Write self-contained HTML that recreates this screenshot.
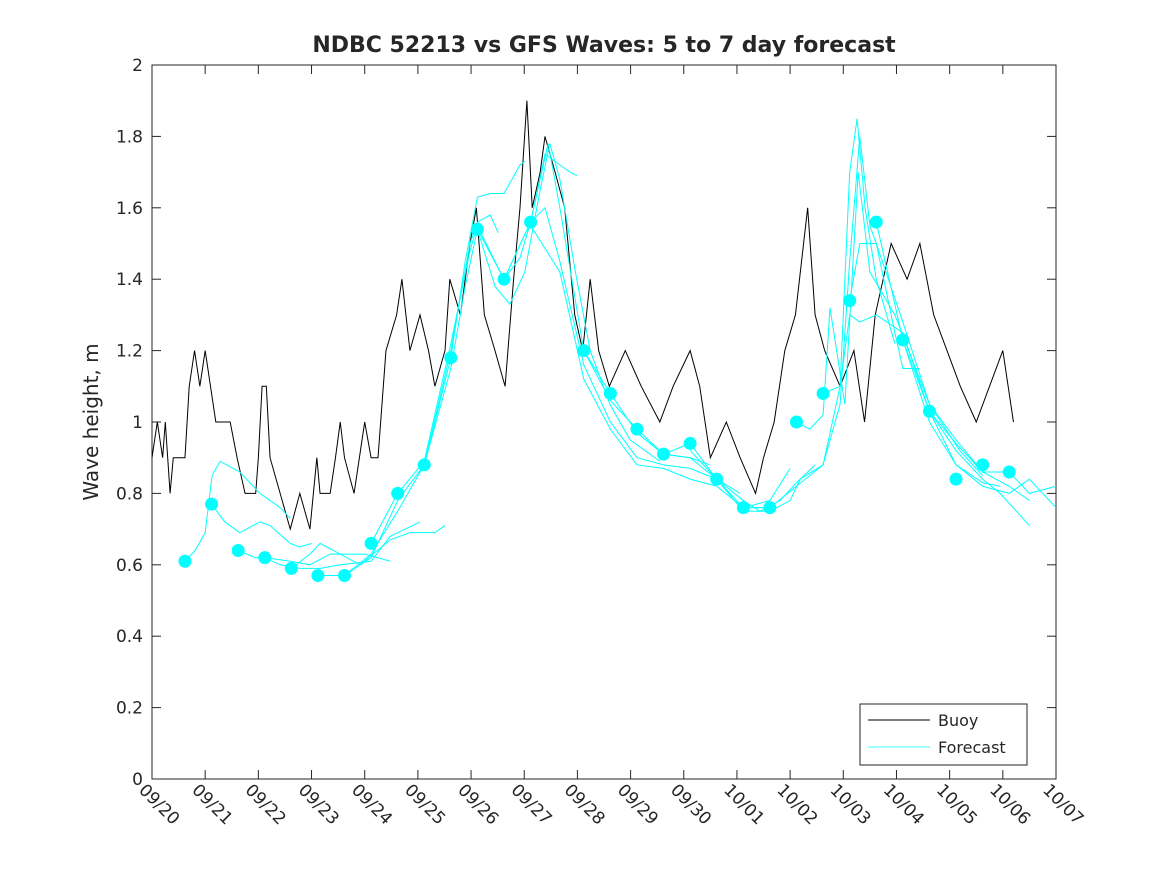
<!DOCTYPE html>
<html><head><meta charset="utf-8"><style>
body{margin:0;background:#fff;}
svg text{font-family:"DejaVu Sans","Liberation Sans",sans-serif;fill:#262626;}
</style></head><body>
<svg id="chart" width="1167" height="875" xmlns="http://www.w3.org/2000/svg">
<rect x="0" y="0" width="1167" height="875" fill="#fff"/>
<text x="604" y="52" text-anchor="middle" font-size="22" font-weight="bold" fill="#000">NDBC 52213 vs GFS Waves: 5 to 7 day forecast</text>
<rect x="152" y="65" width="904" height="714" fill="#fff" stroke="#262626" stroke-width="1"/>
<g id="grid"></g>
<g id="buoyG"></g>
<g id="fcG"></g>
<g id="dotG"></g>
<text transform="translate(98,422) rotate(-90)" text-anchor="middle" font-size="20">Wave height, m</text>
<g>
<rect x="860" y="704" width="167" height="61" fill="#fff" stroke="#262626" stroke-width="1"/>
<line x1="868" y1="720" x2="930" y2="720" stroke="#000" stroke-width="1"/>
<text x="938" y="726" font-size="16">Buoy</text>
<line x1="868" y1="747" x2="930" y2="747" stroke="#00ffff" stroke-width="0.8"/>
<text x="938" y="753" font-size="16">Forecast</text>
</g>
</svg>
<script>
const xTickLabels=["09/20","09/21","09/22","09/23","09/24","09/25","09/26","09/27","09/28","09/29","09/30","10/01","10/02","10/03","10/04","10/05","10/06","10/07"];
const yTicks=[0,0.2,0.4,0.6,0.8,1,1.2,1.4,1.6,1.8,2];
const buoyDays=[0,0.1,0.2,0.25,0.34,0.4,0.62,0.7,0.8,0.9,1.0,1.1,1.2,1.47,1.6,1.75,1.95,2.0,2.07,2.15,2.22,2.41,2.6,2.78,2.97,3.1,3.16,3.35,3.45,3.54,3.62,3.8,4.0,4.12,4.25,4.4,4.6,4.7,4.85,5.04,5.2,5.32,5.51,5.6,5.8,5.98,6.1,6.25,6.45,6.64,6.8,6.92,7.05,7.15,7.3,7.39,7.58,7.76,7.95,8.1,8.24,8.4,8.6,8.9,9.2,9.55,9.8,10.12,10.3,10.5,10.8,11.06,11.35,11.5,11.7,11.9,12.1,12.33,12.47,12.65,12.94,13.2,13.4,13.6,13.9,14.2,14.44,14.7,14.95,15.2,15.5,15.75,16.0,16.1,16.2];
const buoyVals=[0.9,1.0,0.9,1.0,0.8,0.9,0.9,1.1,1.2,1.1,1.2,1.1,1.0,1.0,0.9,0.8,0.8,0.9,1.1,1.1,0.9,0.8,0.7,0.8,0.7,0.9,0.8,0.8,0.9,1.0,0.9,0.8,1.0,0.9,0.9,1.2,1.3,1.4,1.2,1.3,1.2,1.1,1.2,1.4,1.3,1.5,1.6,1.3,1.2,1.1,1.4,1.6,1.9,1.6,1.7,1.8,1.7,1.6,1.3,1.2,1.4,1.2,1.1,1.2,1.1,1.0,1.1,1.2,1.1,0.9,1.0,0.9,0.8,0.9,1.0,1.2,1.3,1.6,1.3,1.2,1.1,1.2,1.0,1.3,1.5,1.4,1.5,1.3,1.2,1.1,1.0,1.1,1.2,1.1,1.0];
const dotDays=[0.62,1.12,1.62,2.12,2.62,3.12,3.62,4.12,4.62,5.12,5.62,6.12,6.62,7.12,8.12,8.62,9.12,9.62,10.12,10.62,11.12,11.62,12.12,12.62,13.12,13.62,14.12,14.62,15.12,15.62,16.12];
const dotVals=[0.61,0.77,0.64,0.62,0.59,0.57,0.57,0.66,0.80,0.88,1.18,1.54,1.40,1.56,1.20,1.08,0.98,0.91,0.94,0.84,0.76,0.76,1.00,1.08,1.34,1.56,1.23,1.03,0.84,0.88,0.86];
const fcDays=[
[0.62,0.81,1.0,1.13,1.28,1.65,2.03,2.41,2.6],
[1.12,1.37,1.65,2.03,2.22,2.6,2.78,3.0],
[1.62,1.94,2.12,2.6,2.97,3.35,3.62,4.0,4.48],
[2.12,2.41,2.78,3.16,3.54,4.12,4.48,5.04],
[2.62,2.97,3.16,3.54,3.91,4.48,4.85,5.32,5.51],
[3.12,3.62,4.12,4.62,5.12,5.62,5.89,6.12,6.36,6.62,6.92,7.01],
[3.62,4.12,4.62,5.12,5.62,5.98,6.12,6.36,6.51],
[4.12,4.62,5.12,5.62,5.98,6.12,6.45,6.62,6.92,7.12,7.39,7.58,7.86,7.99],
[5.12,5.62,5.89,6.12,6.45,6.73,7.01,7.3,7.48,7.67,7.95,8.24,8.61,8.99,9.55],
[6.12,6.62,7.12,7.45,7.67,8.12,8.62,9.12,9.62,10.12,10.49],
[6.62,7.12,7.39,7.67,8.12,8.62,9.12,9.62,10.12,10.62,11.06],
[7.12,7.67,8.12,8.62,9.12,9.62,10.12,10.62,11.12,11.62],
[8.12,8.62,9.12,9.62,10.12,10.62,11.12,11.62,12.0],
[9.12,9.62,10.12,10.62,11.12,11.43,11.81,12.12,12.47],
[10.12,10.62,11.12,11.62,12.0,12.19,12.62,12.94,13.12,13.26,13.41,13.62,13.97],
[11.12,11.62,12.12,12.62,12.94,13.12,13.31,13.5,13.62,13.97,14.12,14.44],
[12.12,12.37,12.62,12.75,13.03,13.28,13.5,13.97,14.62,15.19,15.62],
[12.62,12.94,13.12,13.31,13.62,14.12,14.62,15.12,15.62,15.95],
[13.12,13.31,13.62,14.12,14.62,15.12,15.62,16.12,16.5],
[13.62,14.12,14.62,15.12,15.62,15.95,16.5],
[14.12,14.62,15.12,15.62,16.12,16.5,17.0],
[14.62,15.12,15.62,16.12,16.5,17.0]];
const fcVals=[
[0.61,0.64,0.69,0.85,0.89,0.86,0.80,0.76,0.73],
[0.77,0.72,0.69,0.72,0.71,0.66,0.65,0.66],
[0.64,0.62,0.62,0.61,0.60,0.63,0.63,0.63,0.61],
[0.62,0.60,0.59,0.59,0.60,0.61,0.68,0.72],
[0.59,0.63,0.66,0.63,0.60,0.67,0.69,0.69,0.71],
[0.57,0.57,0.63,0.75,0.88,1.18,1.45,1.63,1.64,1.64,1.72,1.73],
[0.57,0.62,0.78,0.88,1.20,1.50,1.56,1.58,1.53],
[0.66,0.80,0.89,1.22,1.48,1.55,1.45,1.40,1.46,1.56,1.75,1.73,1.70,1.69],
[0.88,1.15,1.38,1.54,1.38,1.33,1.42,1.65,1.78,1.68,1.43,1.20,1.05,0.95,0.89],
[1.54,1.40,1.56,1.78,1.60,1.20,1.06,0.98,0.91,0.90,0.88],
[1.40,1.56,1.60,1.45,1.16,1.00,0.90,0.88,0.87,0.84,0.80],
[1.55,1.42,1.12,0.98,0.88,0.87,0.84,0.82,0.76,0.76],
[1.20,1.08,0.97,0.91,0.90,0.84,0.76,0.78,0.87],
[0.97,0.91,0.94,0.84,0.78,0.75,0.78,0.83,0.88],
[0.92,0.84,0.75,0.75,0.78,0.84,0.88,1.10,1.70,1.85,1.60,1.40,1.22],
[0.76,0.76,0.82,0.88,1.05,1.45,1.80,1.55,1.50,1.25,1.15,1.15],
[1.00,0.98,1.02,1.32,1.05,1.70,1.42,1.30,1.05,0.92,0.85],
[1.08,1.10,1.30,1.28,1.30,1.25,1.03,0.88,0.83,0.82],
[1.34,1.50,1.50,1.28,1.05,0.95,0.86,0.82,0.78],
[1.56,1.23,1.03,0.92,0.84,0.80,0.71],
[1.23,1.00,0.88,0.82,0.80,0.84,0.76],
[1.03,0.94,0.86,0.86,0.80,0.82]];

const NS="http://www.w3.org/2000/svg";
const X0=152,X1=1056,Y0=779,Y1=65;
const xS=d=>X0+(X1-X0)*d/17;
const yS=v=>Y0-(Y0-Y1)*v/2;
function mk(tag,attrs,parent){const e=document.createElementNS(NS,tag);for(const k in attrs)e.setAttribute(k,attrs[k]);parent.appendChild(e);return e;}
const grid=document.getElementById('grid');
yTicks.forEach(v=>{
  const t=mk('line',{x1:X0,x2:X0+9,y1:yS(v),y2:yS(v),stroke:'#262626'},grid);
  
  
  const t2=mk('line',{x1:X1,x2:X1-9,y1:yS(v),y2:yS(v),stroke:'#262626'},grid);
  
  
  const l=mk('text',{x:X0-9,y:yS(v)+6,'text-anchor':'end','font-size':'17'},grid);
  l.textContent=String(v);
  
  
});
xTickLabels.forEach((s,i)=>{
  const x=xS(i);
  const t=mk('line',{x1:x,x2:x,y1:Y0,y2:Y0-9,stroke:'#262626'},grid);
  
  
  const t2=mk('line',{x1:x,x2:x,y1:Y1,y2:Y1+9,stroke:'#262626'},grid);
  
  
  const l=mk('text',{transform:`translate(${x-14},${Y0+12}) rotate(45)`,'font-size':'17'},grid);
  l.textContent=s;
  
  
});
const bg=document.getElementById('buoyG');
const bp=mk('polyline',{points:buoyDays.map((d,i)=>xS(d)+','+yS(buoyVals[i])).join(' '),fill:'none',stroke:'#000','stroke-width':'1'},bg);


const fg=document.getElementById('fcG');
fcDays.forEach((ds,j)=>{
  const p=mk('polyline',{points:ds.map((d,i)=>xS(d)+','+yS(fcVals[j][i])).join(' '),fill:'none',stroke:'#00ffff','stroke-width':'1'},fg);
  
  
});
const dg=document.getElementById('dotG');
dotDays.forEach((d,i)=>{
  const c=mk('circle',{cx:xS(d),cy:yS(dotVals[i]),r:6.5,fill:'#00ffff'},dg);
  
  
});
</script>
</body></html>
